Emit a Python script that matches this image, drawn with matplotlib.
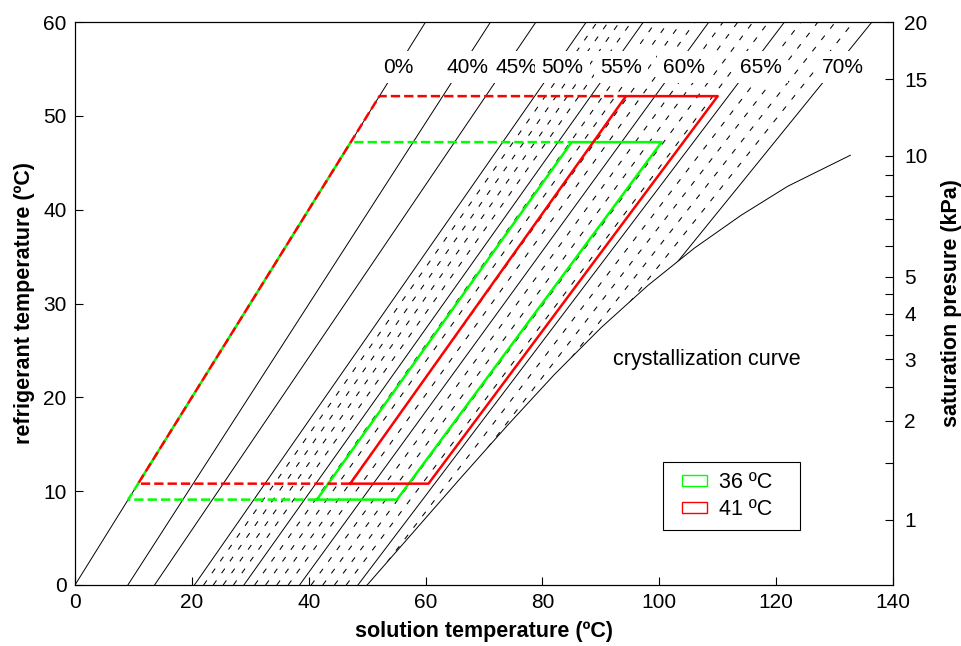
import matplotlib
matplotlib.use("Agg")
import matplotlib.pyplot as plt
from matplotlib.patches import Polygon, Patch, Rectangle
from matplotlib.legend_handler import HandlerPatch

plt.rcParams["font.family"] = ["Liberation Sans", "DejaVu Sans"]
plt.rcParams["lines.scale_dashes"] = False

# Duhring lines of LiBr concentration: solution temperature at refrigerant 0 and 60 degC
solid_conc = [0, 40, 45, 50, 55, 60, 65, 70]
solid_t0 = [0.0, 9.05, 13.62, 20.44, 28.91, 38.44, 48.42, 58.27]
solid_t60 = [60.0, 71.12, 78.89, 87.51, 97.28, 108.49, 121.43, 136.40]

dashed_conc = [51, 52, 53, 54, 56, 57, 58, 59, 61, 62, 63, 64, 66, 67, 68, 69]
dashed_t0 = [22.02, 23.67, 25.36, 27.12, 30.75, 32.63, 34.54, 36.48,
             40.42, 42.41, 44.41, 46.42, 50.42, 52.41, 54.38, 56.34]
dashed_t60 = [89.37, 91.27, 93.22, 95.22, 99.40, 101.58, 103.82, 106.12,
              110.93, 113.45, 116.03, 118.69, 124.25, 127.16, 130.15, 133.23]

# concentration labels (solution temperature of label centre)
label_text = ["0%", "40%", "45%", "50%", "55%", "60%", "65%", "70%"]
label_t = [55.4, 67.2, 75.5, 83.4, 93.4, 104.3, 117.4, 131.4]
label_tr = 55.2

# crystallization curve
cryst_t = [50.0, 58.0, 66.0, 74.0, 82.0, 90.0, 98.0, 106.0, 114.0, 122.0, 132.7]
cryst_tr = [0.0, 5.7, 11.4, 17.0, 22.4, 27.4, 31.9, 35.9, 39.4, 42.5, 45.8]

# absorption cycles (solution side solid, refrigerant side dashed)
c41_sol_t = [47.1, 94.3, 110.0, 60.5, 47.1]
c41_sol_tr = [10.8, 52.1, 52.1, 10.8, 10.8]
c41_ref_t = [47.1, 10.8, 52.1, 94.3]
c41_ref_tr = [10.8, 10.8, 52.1, 52.1]

c36_sol_t = [41.4, 85.0, 100.4, 55.1, 41.4]
c36_sol_tr = [9.1, 47.2, 47.2, 9.1, 9.1]
c36_ref_t = [41.4, 9.1, 47.2, 85.0]
c36_ref_tr = [9.1, 9.1, 47.2, 47.2]

legend_labels = ["36 \u00baC", "41 \u00baC"]

# water saturation pressure (kPa) and its saturation temperature (degC)
p_major = [1, 2, 3, 4, 5, 10, 15, 20]
tsat_major = [6.97, 17.50, 24.08, 28.96, 32.88, 45.81, 53.97, 60.06]
p_minor = [1.5, 2.5, 3.5, 4.5, 6, 7, 8, 9]
tsat_minor = [13.02, 21.08, 26.67, 31.01, 36.16, 39.00, 41.51, 43.76]

fig = plt.figure(figsize=(9.61, 6.46), dpi=100)
ax = fig.add_axes([75 / 961, 61 / 646, 818 / 961, 563 / 646])
ax.set_xlim(0, 140)
ax.set_ylim(0, 60)

# region of liquid solution (left of crystallization curve) used to clip the lines
slope = (cryst_t[1] - cryst_t[0]) / (cryst_tr[1] - cryst_tr[0])
clip_verts = [(-10, -10), (cryst_t[0] - 10 * slope, -10)]
clip_verts += list(zip(cryst_t, cryst_tr))
clip_verts += [(160, cryst_tr[-1]), (160, 70), (-10, 70)]
clip_poly = Polygon(clip_verts, closed=True, facecolor="none", edgecolor="none")
ax.add_patch(clip_poly)

for t0, t60 in zip(solid_t0, solid_t60):
    ln, = ax.plot([t0, t60], [0, 60], color="black", lw=0.7, zorder=2)
    ln.set_clip_path(clip_poly)
for t0, t60 in zip(dashed_t0, dashed_t60):
    ln, = ax.plot([t0, t60], [0, 60], color="black", lw=0.75,
                  linestyle=(0, (4.0, 6.4)), zorder=2)
    ln.set_clip_path(clip_poly)

ax.plot(cryst_t, cryst_tr, color="black", lw=0.7, zorder=2)

for txt, t in zip(label_text, label_t):
    ax.text(t, label_tr, txt, fontsize=15, ha="center", va="center", zorder=3,
            bbox=dict(facecolor="white", edgecolor="none", pad=4.5))

ax.text(92.1, 24.0, "crystallization curve", fontsize=15.5, ha="left", va="center")

green = (0, 1, 0)
red = (1, 0, 0)
dash_c = (0, (6.7, 2.9))
ax.plot(c36_ref_t, c36_ref_tr, color=green, lw=1.8, linestyle=dash_c, zorder=4)
ax.plot(c36_sol_t, c36_sol_tr, color=green, lw=1.8, zorder=4)
ax.plot(c41_ref_t, c41_ref_tr, color=red, lw=1.8, linestyle=dash_c, zorder=5)
ax.plot(c41_sol_t, c41_sol_tr, color=red, lw=1.8, zorder=5)

ax.set_xticks(range(0, 141, 20))
ax.set_yticks(range(0, 61, 10))
ax.tick_params(direction="in", length=6, width=0.8, labelsize=15,
               top=False, right=False, pad=6)
ax.set_xlabel("solution temperature (\u00baC)", fontsize=15.5, fontweight="bold",
              labelpad=6)
ax.set_ylabel("refrigerant temperature (\u00baC)", fontsize=15.5, fontweight="bold",
              labelpad=6)
for s in ax.spines.values():
    s.set_linewidth(0.8)

ax2 = ax.twinx()
ax2.set_ylim(0, 60)
ax2.set_yticks(tsat_major)
ax2.set_yticklabels([str(p) for p in p_major])
ax2.set_yticks(tsat_minor, minor=True)
ax2.tick_params(which="both", direction="in", length=6, width=0.8, labelsize=15, pad=8)
ax2.set_ylabel("saturation presure (kPa)", fontsize=15.5, fontweight="bold", labelpad=10)
for s in ax2.spines.values():
    s.set_linewidth(0.8)


def inset_rect(legend, orig_handle, xdescent, ydescent, width, height, fontsize):
    # small outlined box placed in the right part of the handle slot
    off = width * 0.28
    return Rectangle((-xdescent + off, -ydescent), width - off, height)


handles = [Patch(facecolor="white", edgecolor=green, lw=1.0),
           Patch(facecolor="white", edgecolor=red, lw=1.0)]
leg = ax.legend(handles, legend_labels, loc="upper left",
                bbox_to_anchor=(0.719, 0.218, 0.167, 0.0), mode="expand",
                fontsize=15.5, frameon=True, fancybox=False, framealpha=1,
                edgecolor="black", borderaxespad=0, handlelength=1.6,
                handleheight=0.4, handletextpad=0.55, borderpad=0.45,
                labelspacing=0.3,
                handler_map={Patch: HandlerPatch(patch_func=inset_rect)})
leg.get_frame().set_linewidth(0.8)

fig.savefig("out.png", dpi=100)
